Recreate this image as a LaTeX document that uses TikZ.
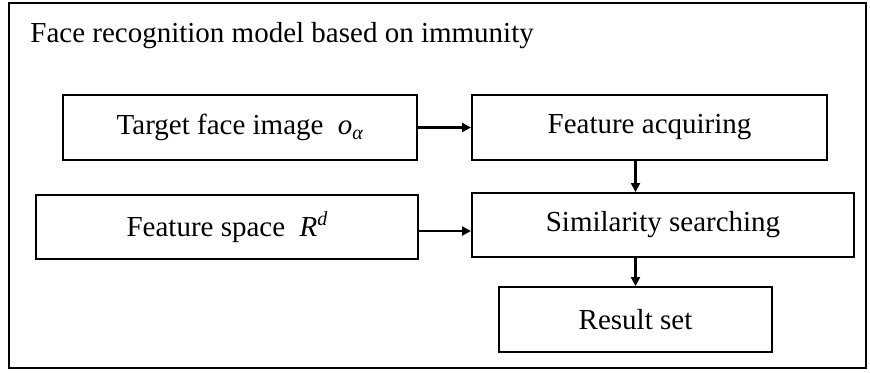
\documentclass[tikz,border=0pt]{standalone}
\usepackage{fontspec}
\setmainfont{Liberation Serif}
\usetikzlibrary{arrows.meta}
\begin{document}
\begin{tikzpicture}[x=0.5pt,y=-0.5pt,
  every node/.style={font=\fontsize{14.5}{17}\selectfont},
  stepbox/.style={draw, line width=1pt, inner sep=0pt, align=center},
  flow/.style={line width=1.1pt, -{Triangle[length=4.5pt,width=4.5pt]}}]
  \useasboundingbox (0,0) rectangle (870,372);
  % outer frame
  \draw[line width=0.9pt] (9,3) rectangle (866,368);
  \node[anchor=base west, inner sep=0pt] (title) at (30,42) {Face recognition model based on immunity};
  % process boxes
  \node[stepbox, minimum width=177pt, minimum height=32.5pt] (target) at (240,127.5)
    {Target face image\ \ \textit{o}\raisebox{-0.35ex}{\fontsize{10}{10}\selectfont\textit{α}}};
  \node[stepbox, minimum width=177.5pt, minimum height=32.5pt] (acq) at (649.5,127.5) {Feature acquiring};
  \node[stepbox, minimum width=191pt, minimum height=32pt] (space) at (227,227)
    {Feature space\ \ \textit{R}\raisebox{0.85ex}{\fontsize{10}{10}\selectfont\textit{d}}};
  \node[stepbox, minimum width=191pt, minimum height=32pt] (sim) at (663,225) {Similarity searching};
  \node[stepbox, minimum width=136.5pt, minimum height=32.5pt] (res) at (635.5,319.5) {Result set};
  % connectors
  \draw[flow] (target.east) -- (target.east -| acq.west);
  \draw[flow] ([yshift=-2pt]space.east) -- ([yshift=-2pt]space.east -| sim.west);
  \draw[flow] (res.north |- acq.south) -- (res.north |- sim.north);
  \draw[flow] (res.north |- sim.south) -- (res.north);
\end{tikzpicture}
\end{document}
